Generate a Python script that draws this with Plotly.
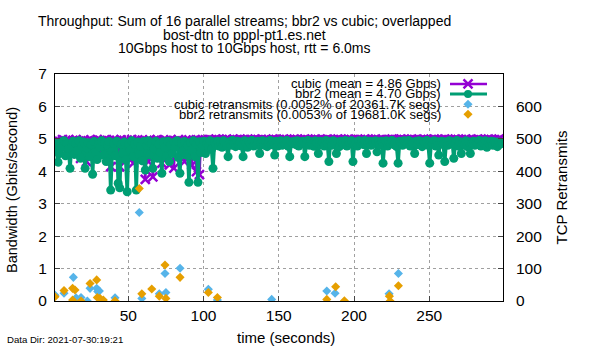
import plotly.graph_objects as go

# ---------------- data ----------------
t_start = 1.3  # first sample time (s); samples are 1 s apart

cubic_gbps = [
    4.85, 4.96, 4.70, 4.92, 4.60, 4.98, 4.78, 4.94, 4.66, 4.97,
    4.55, 4.90, 4.95, 4.72, 4.98, 4.62, 4.93, 4.40, 4.88, 4.96,
    4.70, 4.30, 4.94, 4.82, 4.97, 4.58, 4.92, 4.75, 4.98, 4.65,
    4.95, 4.80, 4.52, 4.97, 4.88, 4.68, 4.94, 4.14, 4.90, 4.98,
    4.62, 4.95, 4.78, 4.14, 4.97, 4.70, 4.92, 4.56, 4.96, 4.84,
    4.66, 4.98, 4.25, 4.93, 4.75, 4.97, 4.60, 4.90, 4.96, 4.72,
    3.75, 4.94, 4.30, 4.97, 4.82, 3.83, 4.95, 4.68, 4.98, 4.58,
    4.92, 4.25, 4.96, 4.78, 4.95, 4.64, 4.20, 4.97, 4.86, 4.10,
    4.94, 4.72, 4.98, 4.60, 4.93, 4.88, 4.30, 4.96, 4.70, 4.97,
    4.82, 4.19, 4.95, 4.66, 3.99, 4.97, 3.90, 4.92, 4.98, 4.85,
    4.96, 4.93, 4.98, 4.94, 4.97, 4.92, 4.96, 4.99, 4.94, 4.97,
    4.95, 4.98, 4.93, 4.96, 4.99, 4.94, 4.97, 4.92, 4.96, 4.98,
    4.94, 4.97, 4.95, 4.99, 4.93, 4.96, 4.98, 4.94, 4.97, 4.95,
    4.98, 4.93, 4.96, 4.99, 4.94, 4.97, 4.95, 4.98, 4.92, 4.96,
    4.97, 4.95, 4.98, 4.93, 4.96, 4.99, 4.94, 4.97, 4.95, 4.98,
    4.93, 4.96, 4.99, 4.94, 4.97, 4.92, 4.98, 4.95, 4.96, 4.99,
    4.95, 4.98, 4.93, 4.97, 4.94, 4.96, 4.99, 4.92, 4.97, 4.95,
    4.98, 4.94, 4.96, 4.99, 4.93, 4.97, 4.95, 4.98, 4.94, 4.96,
    4.96, 4.99, 4.94, 4.97, 4.95, 4.98, 4.93, 4.96, 4.99, 4.94,
    4.97, 4.95, 4.98, 4.93, 4.96, 4.99, 4.94, 4.97, 4.92, 4.98,
    4.94, 4.97, 4.95, 4.98, 4.93, 4.96, 4.99, 4.95, 4.97, 4.94,
    4.98, 4.93, 4.96, 4.99, 4.94, 4.97, 4.95, 4.98, 4.96, 4.93,
    4.95, 4.98, 4.94, 4.97, 4.99, 4.93, 4.96, 4.98, 4.95, 4.97,
    4.99, 4.94, 4.97, 4.95, 4.98, 4.92, 4.96, 4.99, 4.94, 4.97,
    4.96, 4.98, 4.93, 4.97, 4.95, 4.99, 4.94, 4.96, 4.98, 4.93,
    4.97, 4.95, 4.99, 4.94, 4.96, 4.98, 4.93, 4.97, 4.95, 4.99,
    4.94, 4.97, 4.95, 4.98, 4.93, 4.96, 4.99, 4.94, 4.97, 4.95,
    4.98, 4.93, 4.96, 4.99, 4.95, 4.97, 4.94, 4.98, 4.96, 4.93,
    4.96, 4.99, 4.94, 4.97, 4.95, 4.98, 4.93, 4.96, 4.99, 4.94,
    4.97, 4.95, 4.98, 4.94, 4.96, 4.99, 4.93, 4.96,
]

bbr2_gbps = [
    4.86, 4.62, 4.28, 4.55, 4.90, 4.74, 4.94, 4.48, 4.86, 4.70,
    4.09, 4.80, 4.93, 4.52, 4.85, 4.64, 4.94, 4.40, 4.78, 4.90,
    4.09, 4.72, 4.88, 4.45, 4.82, 3.91, 4.92, 4.58, 4.36, 4.85,
    4.74, 4.94, 4.50, 4.88, 4.30, 4.80, 4.92, 3.42, 4.62, 4.86,
    4.48, 4.93, 3.63, 3.49, 4.82, 4.56, 4.90, 4.35, 3.37, 4.84,
    4.66, 4.94, 4.45, 4.83, 3.42, 4.90, 4.52, 4.78, 4.32, 4.92,
    4.04, 4.80, 4.94, 4.50, 4.86, 4.09, 4.70, 4.93, 4.40, 4.84,
    4.58, 3.94, 4.91, 4.74, 4.45, 4.93, 4.30, 4.82, 4.55, 4.89,
    4.76, 4.94, 4.42, 3.94, 4.86, 4.62, 4.92, 4.50, 4.80, 3.66,
    4.88, 4.66, 4.94, 4.45, 4.84, 3.66, 4.91, 4.58, 4.80, 4.93,
    4.55, 4.86, 4.76, 4.94, 4.68, 4.09, 4.90, 4.82, 4.93, 4.78,
    4.88, 4.74, 4.94, 4.84, 4.78, 4.45, 4.91, 4.80, 4.95, 4.86,
    4.76, 4.93, 4.82, 4.90, 4.78, 4.45, 4.94, 4.86, 4.74, 4.91,
    4.84, 4.95, 4.78, 4.90, 4.81, 4.93, 4.55, 4.86, 4.94, 4.80,
    4.91, 4.76, 4.88, 4.95, 4.82, 4.90, 4.50, 4.93, 4.78, 4.86,
    4.94, 4.80, 4.91, 4.84, 4.95, 4.77, 4.45, 4.90, 4.86, 4.93,
    4.82, 4.94, 4.78, 4.90, 4.86, 4.93, 4.45, 4.84, 4.95, 4.80,
    4.91, 4.86, 4.77, 4.94, 4.88, 4.55, 4.93, 4.82, 4.90, 4.78,
    4.95, 4.86, 4.30, 4.91, 4.80, 4.94, 4.84, 4.55, 4.90, 4.76,
    4.93, 4.86, 4.82, 4.95, 4.78, 4.91, 4.88, 4.94, 4.30, 4.84,
    4.90, 4.78, 4.94, 4.86, 4.91, 4.82, 4.95, 4.55, 4.88, 4.93,
    4.80, 4.91, 4.86, 4.94, 4.60, 4.90, 4.82, 4.93, 4.25, 4.88,
    4.94, 4.78, 4.91, 4.86, 4.95, 4.82, 4.90, 4.76, 4.25, 4.93,
    4.86, 4.80, 4.94, 4.91, 4.84, 4.95, 4.78, 4.90, 4.86, 4.55,
    4.93, 4.82, 4.94, 4.88, 4.76, 4.91, 4.86, 4.95, 4.80, 4.25,
    4.90, 4.84, 4.94, 4.78, 4.91, 4.50, 4.88, 4.93, 4.82, 4.30,
    4.91, 4.80, 4.94, 4.86, 4.90, 4.40, 4.84, 4.95, 4.78, 4.91,
    4.55, 4.88, 4.82, 4.94, 4.76, 4.90, 4.55, 4.86, 4.93, 4.80,
    4.91, 4.84, 4.95, 4.78, 4.90, 4.86, 4.94, 4.74, 4.88, 4.82,
    4.93, 4.80, 4.91, 4.86, 4.76, 4.90, 4.84, 4.88,
]

cubic_rtx_time = [1.3, 7.3, 13.5, 15.3, 18.6, 22.8, 24.6, 29.0, 29.7, 30.8, 41.2,
                  57.3, 59.0, 70.6, 74.4, 75.0, 84.4, 103.2, 109.2, 145.3,
                  181.9, 187.4, 223.3, 229.5]
cubic_rtx = [18, 24, 73, 10, 11, 0, 39, 39, 29, 31, 10,
             273, 8, 22, 85, 26, 101, 36, 3, 5,
             31, 24, 22, 85]

bbr2_rtx_time = [1.3, 7.3, 13.0, 13.0, 14.6, 18.6, 24.6, 29.0, 29.4, 31.2, 33.4, 41.2,
                 57.3, 59.0, 65.6, 70.6, 74.4, 75.0, 84.4, 103.2, 109.2,
                 181.9, 187.8, 193.6, 223.5, 224.0, 229.5]
bbr2_rtx = [13, 32, 39, 3, 34, 0, 54, 65, 11, 8, 3, 1,
            347, 22, 37, 15, 111, 8, 73, 26, 11,
            5, 44, 1, 15, 0, 47]

title_lines = ["Throughput: Sum of 16 parallel streams; bbr2 vs cubic; overlapped",
               "bost-dtn to pppl-pt1.es.net",
               "10Gbps host to 10Gbps host, rtt = 6.0ms"]
legend_labels = ["cubic (mean = 4.86 Gbps)",
                 "bbr2 (mean = 4.70 Gbps)",
                 "cubic retransmits (0.0052% of 20361.7K segs)",
                 "bbr2 retransmits (0.0053% of 19681.0K segs)"]
x_ticks = [50, 100, 150, 200, 250]
y_ticks = [0, 1, 2, 3, 4, 5, 6, 7]
y2_ticks = [0, 100, 200, 300, 400, 500, 600]

# ---------------- styling ----------------
PURPLE = "#9400d3"
GREEN = "#009e73"
BLUE = "#56b4e9"
ORANGE = "#e69f00"
FONT = "Liberation Sans, Arial, sans-serif"

times_c = [round(t_start + i, 1) for i in range(len(cubic_gbps))]
times_b = [round(t_start + i, 1) for i in range(len(bbr2_gbps))]

fig = go.Figure()
fig.add_trace(go.Scatter(x=times_c, y=cubic_gbps, mode="lines+markers",
                         line=dict(color=PURPLE, width=2.5),
                         marker=dict(symbol="x-thin", size=9,
                                     line=dict(color=PURPLE, width=2.5)),
                         showlegend=False))
fig.add_trace(go.Scatter(x=times_b, y=bbr2_gbps, mode="lines+markers",
                         line=dict(color=GREEN, width=3.5),
                         marker=dict(symbol="circle", size=9, color=GREEN),
                         showlegend=False))
fig.add_trace(go.Scatter(x=cubic_rtx_time, y=cubic_rtx, mode="markers", yaxis="y2",
                         marker=dict(symbol="diamond", size=7, color=BLUE),
                         showlegend=False))
fig.add_trace(go.Scatter(x=bbr2_rtx_time, y=bbr2_rtx, mode="markers", yaxis="y2",
                         marker=dict(symbol="diamond", size=7, color=ORANGE),
                         showlegend=False))

# ---- manual gnuplot-style key (text right-aligned, sample on the right) ----
key_y = [0.956, 0.912, 0.867, 0.823]
key_x0, key_x1, key_xm, key_text_x = 0.8817, 0.9643, 0.9219, 0.866
key_styles = [
    dict(mode="lines+markers", line=dict(color=PURPLE, width=2.5),
         marker=dict(symbol="x-thin", size=9, line=dict(color=PURPLE, width=2.5))),
    dict(mode="lines+markers", line=dict(color=GREEN, width=3),
         marker=dict(symbol="circle", size=8, color=GREEN)),
    dict(mode="markers", marker=dict(symbol="diamond", size=7, color=BLUE)),
    dict(mode="markers", marker=dict(symbol="diamond", size=7, color=ORANGE)),
]
for ky, st in zip(key_y, key_styles):
    if st["mode"] == "lines+markers":
        fig.add_trace(go.Scatter(x=[key_x0, key_x1], y=[ky, ky], mode="lines",
                                 line=st["line"], xaxis="x3", yaxis="y3",
                                 showlegend=False, hoverinfo="skip"))
    fig.add_trace(go.Scatter(x=[key_xm], y=[ky], mode="markers", marker=st["marker"],
                             xaxis="x3", yaxis="y3", showlegend=False, hoverinfo="skip"))

annotations = []
for ky, label in zip(key_y, legend_labels):
    annotations.append(dict(x=key_text_x, y=ky, xref="paper", yref="paper",
                            text=label, showarrow=False, xanchor="right",
                            yanchor="middle", font=dict(size=13, color="black")))
for yy, line in zip([1.2313, 1.1718, 1.1167], title_lines):
    annotations.append(dict(x=0.4219, y=yy, xref="paper", yref="paper", text=line,
                            showarrow=False, xanchor="center", yanchor="middle",
                            font=dict(size=14, color="black")))
annotations += [
    dict(x=0.5156, y=-0.1586, xref="paper", yref="paper", text="time (seconds)",
         showarrow=False, xanchor="center", yanchor="middle", font=dict(size=15)),
    dict(x=-0.096, y=0.489, xref="paper", yref="paper", text="Bandwidth (Gbits/second)",
         showarrow=False, textangle=-90, xanchor="center", yanchor="middle",
         font=dict(size=14.5)),
    dict(x=1.1295, y=0.5, xref="paper", yref="paper", text="TCP Retransmits",
         showarrow=False, textangle=-90, xanchor="center", yanchor="middle",
         font=dict(size=15)),
    dict(x=-0.1116, y=-0.1718, xref="paper", yref="paper",
         text="Data Dir: 2021-07-30:19:21", showarrow=False, xanchor="left",
         yanchor="middle", font=dict(size=9.6)),
]

grid = dict(showgrid=True, gridcolor="#a0a0a0", griddash="dot", gridwidth=1)
fig.update_layout(
    width=600, height=350,
    margin=dict(l=55, r=97, t=74, b=49),
    paper_bgcolor="white", plot_bgcolor="white",
    font=dict(family=FONT, color="black"),
    showlegend=False,
    xaxis=dict(range=[1.3, 299], tickvals=x_ticks, ticks="inside", ticklen=5,
               tickfont=dict(size=15.5), showline=True, linecolor="black",
               linewidth=1, mirror=True, zeroline=False, **grid),
    yaxis=dict(range=[0, 7], tickvals=y_ticks, ticks="inside", ticklen=5,
               tickfont=dict(size=15.5), ticklabelstandoff=4, showline=True,
               linecolor="black", linewidth=1, mirror=True, zeroline=False, **grid),
    yaxis2=dict(range=[0, 700], tickvals=y2_ticks, overlaying="y", side="right",
                ticks="inside", ticklen=5, tickfont=dict(size=15.5),
                ticklabelstandoff=12, showgrid=False, zeroline=False,
                showline=False),
    xaxis3=dict(range=[0, 1], overlaying="x", visible=False),
    yaxis3=dict(range=[0, 1], overlaying="y", visible=False),
    annotations=annotations,
)

fig.write_html("out.html")
